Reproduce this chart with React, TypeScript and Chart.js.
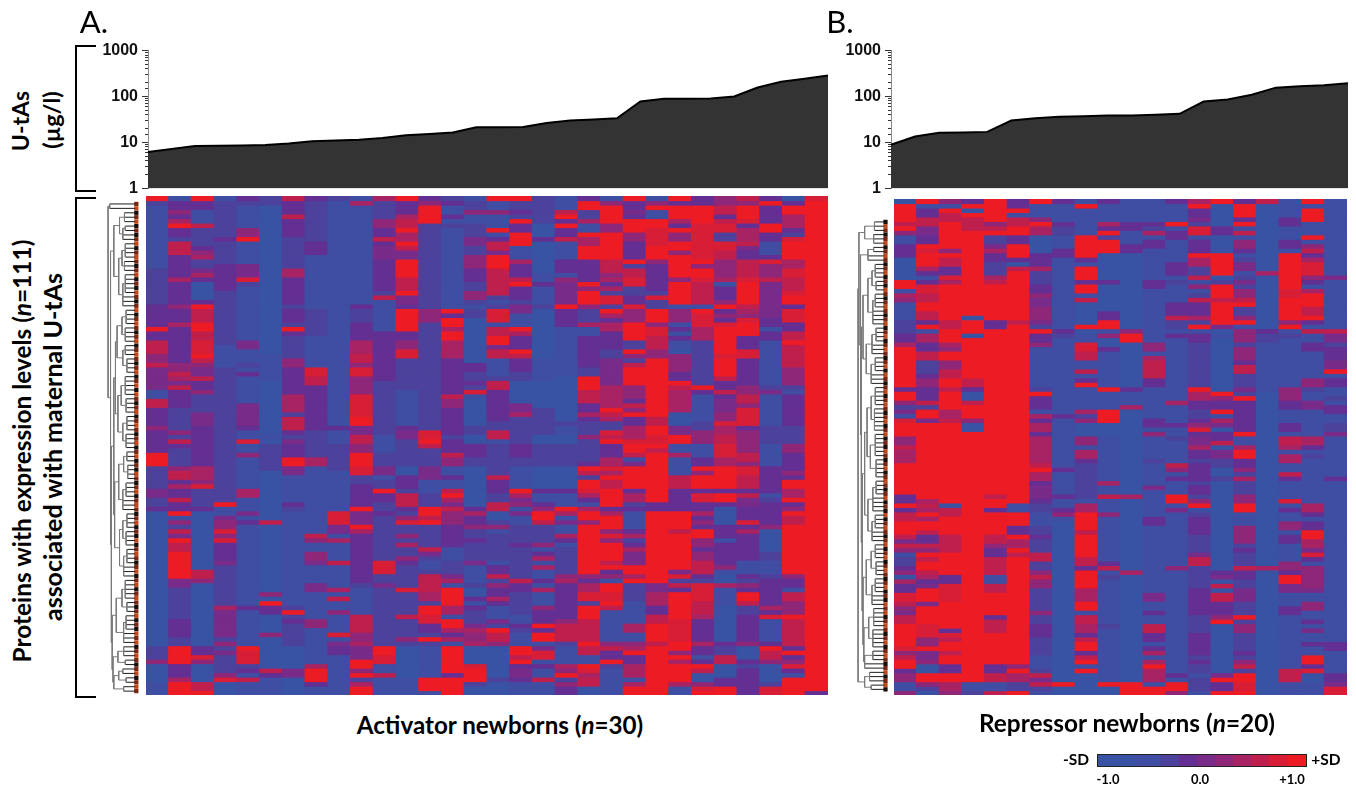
import React, { useEffect, useRef } from "react";
import { Chart, registerables } from "chart.js";

Chart.register(...registerables);

const FONT = "Lato, 'Open Sans', sans-serif";

// ---- U-tAs curves (µg/l), sorted per newborn ----
const uTasA = [6.2, 7.2, 8.4, 8.5, 8.6, 8.8, 9.5, 10.6, 11, 11.4, 12.5, 14.3, 15.3, 16.4, 21.4, 21.4, 21.8, 26.5, 29.9, 31.8, 33.5, 78, 90, 90, 91, 100, 157, 209, 243, 286];
const uTasB = [8.9, 13.5, 16.2, 16.4, 17, 30, 33.5, 36.5, 37, 38.5, 38.5, 40, 42, 78, 86, 109, 156, 167, 176, 194];
const powersOfTen = [1, 10, 100, 1000];

// ---- heatmap levels: 0 = -1.0 SD ... 9 = +1.0 SD ----
// each column: base level, then "row:level" or "from-to:level"
const heatA = [
  "1 0:9 1:2 16-23:2 24-28:3 29:9 30-31:3 32-34:7 35-36:5 37:7 38-42:4 43-44:1 45-46:7 47-50:3 51:5 52-56:3 57-59:9 60-64:2 65-66:4 67-68:2 69:3 70-99:0 100-102:2 103:5 104-107:0 108-110:1",
  "2 0:1 1-4:3 3:5 5:6 6:9 7-8:3 10-12:7 13-17:3 18:6 19-23:3 24:5 25-27:3 28:6 29-36:3 37-38:5 39:7 40:6 41:4 42:7 43-46:3 52:5 54:7 55:3 60:5 61-62:7 63:3 64:6 65-66:3 67:7 68-69:3 70:9 71:1 72:5 74:7 75:4 76:9 77-78:7 79-84:9 85-86:4 94-97:3 100-103:9 104-106:3 107:6 108-110:9",
  "2 0:9 1-2:3 3-5:1 6:7 11:3 12:5 13:6 16:4 17:6 18:3 19-22:0 23:3 24:9 25-27:7 28-29:9 30-31:7 32-34:8 35:9 36:7 37:5 38-39:4 40:7 41-42:3 43:5 48-50:4 51-59:3 60:6 61-62:6 63:5 64:8 69:3 70-99:0 83-84:7 85:5 100-101:3 102:8 103:5 104-107:0 108-109:7 110:9",
  "2 0:1 9:3 15-20:3 33-37:1 68:9 69-70:1 71-72:4 72-75:5 74:8 76:8 77-80:3 81:4 91:6 92-97:4 99:5 101:4 106:5 107:8 108-110:0",
  "1 0:3 1:2 7-8:5 9:9 15-17:4 18:8 19:2 32-33:4 37:2 39:3 46-50:4 51:3 54:8 57:5 65-66:6 70:4 72:3 91:3 100-103:8 100:9 104:2 105:3 107:7",
  "0 0:2 1:2 35-40:1 53:1 55-60:2 72:7 88:5 90:9 91-92:3 97:5 105:7 106:3 107-110:1",
  "2 0:7 1-3:3 4:7 5-8:3 16-17:6 18-23:3 25-27:3 29:9 30:3 36-37:5 38-43:3 44-47:6 49-51:7 52:3 54:4 55-57:3 58-59:9 60-61:4 62-67:1 68:3 70-90:1 92:9 94:3 100-110:0 105-106:4",
  "1 0:3 1-9:2 10-12:3 25-30:2 38-39:8 40-41:7 42-50:3 51:3 52-54:2 55-57:2 58-59:6 75:7 76:5 79-80:5 81:4 86-87:4 94-95:5 104:6 105-107:9 108:3",
  "1 0:2 51:3 55-60:2 70-72:8 73-74:4 76:6 81:7 87:6 89:7 92:5 97:8 99:4 100-101:3",
  "1 0:1 1:6 18-22:1 24:3 25-28:2 28-31:3 32-34:6 35-36:7 37:5 38-39:8 40-43:5 44:8 45-48:8 49:9 50:9 51-52:4 53-56:7 55-56:5 57-59:9 60-61:8 62-63:2 64-68:3 69:9 70-72:4 73:9 74:6 75-85:3 86:2 93-96:7 97-98:5 99:6 100-102:4 103-104:9 105:5 106:9 107-108:2 108:6 109-110:9",
  "2 0:6 5-6:5 7-8:3 9:7 10:3 11-13:4 14-20:3 22:7 23-29:1 30-40:3 53-56:1 60-61:4 62:1 65:9 66-67:3 70:3 81-83:8 84:2 86:4 100-101:9 102-103:8 104-105:1 106:7 107-110:1",
  "2 0:9 1-3:3 4:6 5-6:7 7:9 8-9:6 10:9 11:7 12-13:4 14-20:9 18-20:7 21:9 22-23:4 24:3 25-29:9 30-31:3 32-33:5 34-35:8 43-50:1 51:3 52-53:4 60-61:0 62-64:3 66-68:7 69:3 71:5 72:8 75:5 77:6 80:5 81:3 85-86:2 87:8 93:7 98:5 100-106:0 107-110:1",
  "2 0:3 1:5 2-3:9 4:3 4-5:9 25-27:5 52-53:8 54-55:9 55:7 60-62:4 63-65:1 69-71:9 71:7 72:9 78:7 79:4 81-82:1 84-87:7 88-89:6 91-92:9 93-94:8 95-96:3 98:9 100-106:1 107-109:9 110:1",
  "1 0:2 1:3 4:3 6:2 25:9 26-27:3 27-28:9 29:6 30-31:9 32-35:6 36:3 37-43:3 44:7 45-46:5 47-52:3 53:2 54-56:3 57:7 58-59:5 60-61:1 62:3 65:7 66:9 67:6 68:4 69:7 70-72:5 73-77:3 78-80:1 81-83:2 84:4 85:6 87-90:9 91-92:6 94-95:9 96:6 97:3 98:6 100-105:9 106:3 107-110:9",
  "2 0:1 3:5 4-5:1 9-10:4 13-15:5 16-18:3 21:5 22:5 24:1 27-36:0 37-38:3 41:3 43:8 44:1 45-50:0 51-52:2 53-56:0 55-57:3 60-68:0 69-70:3 70:6 71-72:3 73:5 76:3 81:4 82-85:1 87-88:0 89:3 90:1 91:3 95:4 96:6 97-98:5 99:6 100-103:0 104:8 105-107:9 108:2 109-110:0",
  "2 0:9 1-2:1 3:5 4-6:1 7:9 8:1 9:3 10-11:7 12:4 13-18:9 16-20:7 21:7 23:1 25-27:8 28:1 29-31:7 31-33:9 33:4 34-35:7 36-39:1 41-42:7 43-49:3 52-53:7 54:1 62:7 63-65:3 68-69:7 70-71:0 73:5 74:1 81:1 82-83:3 84:7 86:5 87-90:3 89:6 91-93:1 94:4 96:9 97-98:7 99:5 100-110:0 107:2",
  "2 0:9 1-2:2 3:3 5:9 6-7:3 8-10:9 11-13:1 14:6 15-17:3 18:7 19:9 20-22:3 24-25:4 26-28:1 29:9 30:6 31-33:3 34:9 35:7 36-38:3 41-45:0 46-47:4 48:6 53-56:2 55-57:3 60-64:1 65:9 66:6 67:4 68:5 69:1 70:4 71-72:1 77:3 85:7 86-87:3 93-94:1 95:3 97-99:1 100-103:9 102:7 104:3 105-106:4 107:3 108-110:1",
  "1 0-5:2 6-8:0 9:3 10-16:0 19:3 24:2 25-35:0 36-40:1 41-46:0 47-53:2 53-55:0 55-59:2 60-64:0 65:3 68:3 69:5 70-71:9 72:7 73-76:2 77:5 79:3 80:6 82:6 85:3 87:6 91:5 92-94:3 95:9 96-97:3 97-98:9 100:4 101-102:8 104:3 107:7 108-110:1",
  "1 3:7 4:9 5:3 6:9 7-8:3 9:7 14-16:3 18:5 19-23:4 24:9 25-28:3 40-49:0 50:2 53-54:0 55-59:2 60-64:0 65:3 69:9 70:6 72:4 73:1 75:6 76:3 78-83:2 84:5 85:6 86-91:3 92-93:3 94:5 95-96:7 97-98:7 99:2 100-103:1 104:6 105:5 106:9 107:2 108:5 109-110:3",
  "2 0:3 1-2:9 3-5:2 5:6 6-7:1 8:9 9-10:6 11-13:9 14-18:3 19:9 20:5 21-23:9 24:5 28:6 29-30:1 31-37:3 40-42:9 43-45:7 46-47:3 48:6 49:3 53:5 55-58:2 59:3 60:9 61:7 63-64:9 65:8 66:6 67:3 68:1 69:6 70-71:9 72:5 73-75:9 76-84:9 84:5 85:3 86-87:6 88-89:8 91-93:9 94-98:7 99:9 100-101:7 102:1 103:1 104:9 105:8 106:6 107-108:7 109-110:0",
  "2 0:1 1:5 2-5:9 6-7:5 8-13:9 14-16:7 17:5 18:6 19:3 20:6 22-23:8 24:2 25:9 26:6 27-28:3 28-29:6 30-33:3 36-41:4 42-46:6 47:9 48:7 49:6 52:8 53:7 54:9 55-57:3 58-59:6 60:8 61:6 62:9 63-64:7 65-68:9 69:3 70:6 71-73:9 74:5 75:8 76:5 77-82:9 81:7 83:3 84:5 85:1 86-87:9 88-89:8 90:9 91:7 92-98:1 99:5 100:7 101-102:3 103:9 104:2 105-110:1",
  "2 0:9 1-4:3 3:4 5-7:9 8-9:5 10-13:3 14:9 15:2 16-17:7 18-19:8 22-23:3 24:8 25-27:5 28-31:9 32-33:2 34:9 35:5 37:7 38-41:9 42-44:5 45:3 46:7 47:5 48:9 49-50:3 51-53:6 54-56:8 55-56:9 57:7 58:1 59:4 60-64:9 65:3 66-67:6 69-70:3 70-73:1 74:3 75:6 77:3 78:6 79-81:4 82-83:9 84:6 85:9 86-89:2 90-94:1 95-96:6 97-98:1 99:5 100:6 101:9 102-103:3 104-106:6 107:1 108:6 109-110:9",
  "2 0:1 1:5 2:9 3-4:1 5-6:9 7-10:8 11-13:9 14:5 15-20:3 22:8 23-24:2 25-27:9 28:5 29-31:8 31:7 32-33:7 34-35:5 36-48:9 49-51:7 51-52:9 53-56:8 55:9 56:7 57-67:9 68-69:3 70-85:9 86-87:4 88-89:6 90:6 91-92:3 93-94:7 95-98:9 99:7 100-110:9",
  "3 0:9 1:3 2-4:9 5:6 6:3 7:9 8-10:5 10-11:9 12:5 13-17:9 18:5 19-23:9 24:1 25-27:5 28:1 29:3 30:1 31:3 32-34:1 34:0 35-38:5 41:9 42:7 43-47:6 48-50:0 51-52:4 53-54:9 55-57:1 57:6 58-61:1 62-64:7 65-66:3 70-73:9 74:7 75-82:9 83:4 84:8 85:2 86:7 87:3 88-93:9 94-98:8 99-100:9 101:5 102:9 103:6 104-107:9 108:6 109-110:1",
  "3 0-1:3 2-5:9 6-13:8 14:9 15:5 16-17:9 18:8 19-23:7 24:1 25:9 26:8 27-28:8 29-31:6 32-41:2 42:9 44-49:1 50-51:2 52-56:5 55-57:1 60:9 61:5 62-64:9 66-67:8 70:6 72:5 74-75:9 76-77:5 79-80:5 81-83:7 85:2 86:8 87-89:8 90-92:7 93:6 94-98:3 99:6 102:1 104:9 105:7 106-107:0 108:5 109:8 110:9",
  "3 0-1:5 2-3:7 5:7 6-7:8 8-9:2 10-11:8 12-13:7 14-17:5 18:6 19:0 23:5 24:9 26:5 28:8 29-34:9 35:8 36-40:9 40:7 43:7 45-47:4 48-49:5 50:8 51-52:6 53-54:7 55-57:8 58-59:6 60-61:9 62-64:9 65:3 66-67:9 69-72:0 76:1 82:5 83:1 84-85:0 86:6 87-90:1 91-98:0 100-102:2 102-103:7 104-106:0 107-108:3 109-110:9",
  "3 0:7 1:5 2-5:9 5:8 7-9:6 10:7 11:4 14-17:7 18:8 19-23:9 24:7 25:6 26:5 27-31:8 28-30:9 31-33:3 34-35:8 40-41:3 42-43:5 44-45:7 46:5 47-50:8 52-53:5 54-56:5 57-58:7 59:5 60-61:8 62-64:7 66:7 67-68:4 72:8 74:6 81-83:1 85:2 86:5 88-89:9 90:7 91-92:2 99:5 100-102:0 104:2 109-110:3",
  "3 1:9 6-7:9 10-12:1 14:8 15-17:5 18:7 19-26:4 29:1 32-41:1 42:2 43:4 44-50:1 51-56:2 55-59:1 66:1 67:2 73:5 74-78:0 79-80:2 81-83:1 84:2 91:6 93:8 94-98:1 100:9 101-102:7 103:5 104-107:0 108:2 109-110:8",
  "3 0:0 2-3:9 4-6:6 8:2 9:8 10-13:9 14-15:6 16-17:8 18-20:7 21:8 22-23:9 25-27:8 30-31:7 32:9 33-37:7 38-41:5 42:2 43:1 51-56:2 55-56:5 61:5 63-64:9 65-66:6 67:9 69:5 70:9 71-72:7 73-83:9 84:5 87:1 88-89:7 90-92:5 93:9 94-99:7 101:9 103:5 104:8 106:1 107-110:9",
  "9 0:8 110:3",
];

const heatB = [
  "1 0:0 1-4:9 5:7 6:9 7:5 10-12:3 13-17:0 18-19:9 20:1 21:6 22:5 27-29:2 30-31:3 32:6 33-41:9 42:3 43-44:9 45:5 46:2 47:4 49:8 50-52:9 53-54:5 55:7 56-58:6 59-65:9 66-67:3 68:9 69:3 70-71:7 72-74:9 75:7 76:4 77:7 78:5 79:1 80-82:2 82:3 83:5 84:0 85:6 86-87:3 88-89:8 90:7 91:5 92:4 93-94:7 95-99:9 100:8 101:5 102:7 103-104:9 105:3 106-107:5 108-109:1 110:5",
  "3 0:9 1:1 2-3:3 4:7 5-6:7 6-7:4 8:3 9:3 10:9 11:8 12:5 12-14:9 15:6 16:3 17:1 18:3 19-20:8 21-22:7 23-24:9 25-26:7 27:3 28:9 29:1 30-31:6 32-33:3 34-35:7 36-38:2 39:3 40-41:5 42-44:3 45:7 46:2 47-48:9 49:4 50-66:9 67:6 68:7 69:6 70:9 71:6 72-73:9 74:7 75-76:3 77:7 78:5 79:9 80:7 81-82:9 83:7 84:6 85:3 86:4 87-89:9 90:4 91-94:9 95-97:8 98-99:5 100:9 101-102:4 103:5 104-105:0 106-107:9 108:5 109:2 110:0",
  "9 0:5 1:1 3-4:7 11:5 13-14:7 15-16:3 17:8 18:6 27-28:7 32:6 33:5 36-37:5 38-39:7 42:7 47-48:6 49:7 68:0 69-70:7 75-78:7 84-85:3 86-89:8 96:3 97:8 98:7 101:7 104-105:3 108-109:6 110:5",
  "9 0:3 2:0 4-6:7 26:0 30:0 40-41:7 42:3 43-44:0 45:7 49:5 50-51:0 108-109:1 110:2",
  "9 0:9 5:5 6:7 8-9:2 10:4 11:6 12-13:3 14-16:2 17:6 18:7 27-28:3 66:7 69:3 75-76:7 77:5 78-79:3 80-83:7 84-85:1 86-87:7 93:3 94-96:7 104-105:3 106-107:7 108-109:1 110:7",
  "9 0:3 1:3 3:1 4-5:7 8-9:3 13:3 14:0 15:7 27:7 68-69:1 73-74:3 76-77:6 79:7 104:5 106-107:6 108-109:2",
  "2 0:9 1-3:1 4:5 5:9 6-7:6 8-11:0 12:3 13-14:3 15:6 19-21:3 21:5 22-23:4 24-26:5 27:4 29:9 30-31:3 32:5 33-41:1 43:9 44-46:3 47:1 48:6 49:3 50-51:6 52:3 53-58:6 59:7 60:9 61-62:6 63:3 64-66:4 67:3 68-69:2 70-72:1 75:3 79-80:7 83:5 84:7 85-86:5 92:5 95-97:3 102:1 103-104:1 106:7 107:4 108:7 110:1",
  "1 0:3 5:3 6-7:2 11-12:3 29:3 30:2 48:3 60:3 66:3 70:5 69:3 72-107:0 108:9 109-110:0",
  "1 1:9 0:1 8-12:9 13:3 15-17:9 18:3 19-20:9 22:7 23-29:0 28:9 32-33:8 34-35:7 38:7 40:3 41:9 47:6 48:2 49:5 50-52:0 53-54:5 56-57:6 58:3 59-66:2 68-69:6 70-73:9 74:7 75-81:9 80-81:7 82:3 83-86:9 87-89:6 90-91:9 93-94:7 95-96:6 97:3 98:7 99-100:9 101:3 102:7 103:9 105:9 106-110:0",
  "1 0:3 5:6 6:3 7:9 8:2 9-11:9 12-24:0 18:3 25-26:3 27-28:9 30:5 31-33:0 33:3 42:9 43-46:1 47-49:9 50-52:0 63:6 66:7 70:5 81:3 82:7 84:2 95:2 108:9 109-110:0",
  "1 5-6:3 10-11:3 29:5 30-31:9 42:3 46:6 66:6 83:6 108:9 109-110:9 12-28:0 32-41:0 47-65:0 67-82:0 84-107:0",
  "1 5:3 6:2 7:6 9-10:3 18-19:3 32-33:5 35:6 36-39:7 40-41:3 49:3 50:3 52:5 58:2 64:4 71-72:3 88-89:4 92:3 95-96:7 97-98:3 100:3 101:6 103:6 104:9 105-107:6 108:1 109-110:9",
  "1 0:3 5:9 7-8:3 14-16:3 18:2 23-25:3 26:7 27-28:2 30:3 45:6 50:3 53:2 59:7 60:5 62:3 66-67:9 69:4 82:5 106:3 108-109:9 110:5",
  "2 0:6 1:9 2-3:3 4:4 5:2 6-7:8 8:1 9-11:3 12:9 13-14:6 15-16:2 17:7 18:1 19:5 20:1 22:7 23-25:3 26:6 28:9 29:1 30-31:3 42:9 43-44:6 45-46:3 49:3 50-51:5 51:8 52:3 53-54:4 55:6 56-57:3 59-62:3 64-65:3 66:2 67:5 68:9 69:1 71-74:3 79:4 80-81:7 87-92:3 97-100:3 101:3 103:3 106:1 110:1",
  "0 0:9 6-7:3 12-16:9 18:2 19-21:9 22:7 23-27:9 28:4 30:1 43:9 44:5 45-46:3 47:9 48:1 49:6 50:4 52-53:3 54:7 56-57:4 58-59:2 62:2 83:3 84:4 86:7 88-89:7 90-92:3 93:5 94:9 106:4 107:9 108-109:3 110:9",
  "2 0:3 1-3:9 4:3 5:9 6:1 7:7 8:1 9-10:5 11:3 12:1 14-15:4 16:1 18:4 20-21:5 22-23:9 22:7 24-25:2 26:5 27:9 28:1 29-31:5 33-35:5 36:3 37-38:7 40:2 42:4 44:9 45-47:3 48-52:3 52:9 53-54:1 55:6 56-57:9 58-59:3 60:5 62:6 66-67:5 68-69:9 70-72:1 73-76:5 78:3 82:7 83-84:3 87-89:4 93:9 95-96:5 101:3 103:5 104:7 106-107:9 108-109:8 110:9",
  "0 0:7 16:6 29:3 30-31:2 32-41:1 42:1 82:6",
  "1 0:1 4-5:3 9-10:3 12-19:9 20-21:8 22-26:9 27:5 28:9 30:2 42-44:5 45-46:3 50-51:3 53-54:7 55:6 57-58:6 61:7 62:3 67:8 69:3 72-73:5 75-76:3 81-82:5 83:3 84-85:9 86-87:4 91-92:3 105-107:7 109-110:1",
  "1 0:9 2-4:9 8:9 10-11:5 11:7 12:3 13:6 14-16:8 17:5 18:3 20-21:6 21-23:9 24-25:7 26:9 27:3 29:7 32-33:3 40-41:5 42:2 45-46:4 53-54:6 55:3 57:2 68-69:6 70:3 72-73:3 74-75:9 76-77:6 78:4 79:8 80:3 82:5 83-86:5 87:4 90-91:5 94:3 96:4 99:3 102-103:9 104:3 105:8 106-107:0",
  "1 17:4 29:7 30-31:4 32:2 33-35:3 36-37:4 38:9 40-41:3 44:2 46-47:3 50-52:2 52:4 62:3 99-100:3 106-107:3 108:4 109-110:8",
];

const palette = ["#3953a4", "#3f4ea2", "#4c429c", "#642f92", "#782b88", "#8e2778", "#a82363", "#bf1f4d", "#d71e36", "#ed1c24"];
const colorbarLevels = [0, 0, 0, 0, 1, 1, 1, 2, 2, 3, 3, 4, 4, 5, 5, 6, 6, 7, 7, 8, 8, 9, 9];
const colorbarTicks = ["-1.0", "0.0", "+1.0"];

// ---- dendrograms: [height, ...children]; a plain number = that many leaves ----
const gA2 = [19, [13, 3], [15, [12, 2], 2]];
const gA3 = [20, [16, [12, 4], [13, 3]], [15, [12, 5], 3]];
const gA4 = [22, [16, [11, 4], [12, 4]], [15, [12, 3], [10, 4]]];
const gA5 = [21, [17, [12, 5], [11, 4]], [15, [10, 4], [11, 4]]];
const gA6 = [20, [14, [10, 3], [9, 4]], [15, [11, 4], 3]];
const gA7 = [19, [15, [10, 4], [11, 4]], [14, [10, 4], 3]];
const gA8 = [23, [16, [12, 5], [10, 3]], [14, [11, 4], 3]];
const gA9 = [21, [14, 3], [12, 2]];
const gA10 = [26, [20, [15, 2], [11, 2]], [14, 2]];
const treeA = [33, [31, 2], [30, [26, gA2, gA3], [29, [26, [24, gA4, gA5], [25, gA6, gA7]], [28, gA8, [27, gA9, gA10]]]]];

const gB1 = [24, [12, 3], [13, 3]];
const gB2 = [20, [13, 2], 2];
const gB3 = [20, [15, [11, 4], [10, 3]], [14, [11, 4], 4]];
const gB4 = [22, [15, [10, 4], 3], [16, [11, 4], 3]];
const gB5 = [21, [16, [11, 5], [12, 6]], [17, [11, 6], [10, 5]]];
const gB6 = [20, [14, [10, 4], 4], [15, [11, 4], 3]];
const gB7 = [22, [16, [11, 4], [10, 4]], [15, [11, 4], 3]];
const gB8 = [19, [13, 5], [14, 5]];
const gB9 = [24, [14, 3], 2];
const treeB = [32, [31, gB1, [29, gB2, [28, [26, gB3, gB4], [27, [24, gB5, gB6], [26, gB7, [25, gB8, gB9]]]]]], [24, [18, 3], [16, 2]]];

const stripA = "120120101201210120102101201210120121012012021012012101201201021012012101201020121012012012101201021201210120121";
const stripB = "021012012101201021012101201201210120210120121012012010210120121012010201210120120121012010212012101201210120120";
const stripColors = ["#1a0d08", "#7c2612", "#c2481a"];

const ROWS = 111;

function parseColumn(spec: string): number[] {
  const parts = spec.trim().split(/\s+/);
  const out = new Array(ROWS).fill(Number(parts[0]));
  for (const t of parts.slice(1)) {
    const [range, lvl] = t.split(":");
    const [a, b] = range.split("-").map(Number);
    for (let r = a; r <= (b === undefined ? a : b) && r < ROWS; r++) out[r] = Number(lvl);
  }
  return out;
}

function heatConfig(columns: string[]): any {
  const cols = columns.map(parseColumn);
  const datasets = [];
  for (let r = 0; r < ROWS; r++) {
    datasets.push({
      data: cols.map(() => 1),
      backgroundColor: cols.map((c) => palette[c[r]]),
      borderWidth: 0,
      inflateAmount: 0.6,
      barPercentage: 1,
      categoryPercentage: 1,
    });
  }
  return {
    type: "bar",
    data: { labels: cols.map((_, i) => String(i + 1)), datasets },
    options: {
      animation: false,
      responsive: false,
      events: [],
      layout: { padding: 0 },
      plugins: { legend: { display: false }, tooltip: { enabled: false } },
      scales: {
        x: { stacked: true, display: false },
        y: { stacked: true, display: false, reverse: true, min: 0, max: ROWS },
      },
    },
  };
}

function areaConfig(values: number[], axisWidth: number, padding: any): any {
  return {
    type: "line",
    data: {
      labels: values.map((_, i) => String(i + 1)),
      datasets: [
        {
          data: values,
          borderColor: "#000000",
          borderWidth: 2,
          backgroundColor: "#333333",
          fill: "start",
          pointRadius: 0,
          tension: 0,
          yAxisID: "y",
        },
      ],
    },
    options: {
      animation: false,
      responsive: false,
      events: [],
      layout: { padding },
      plugins: { legend: { display: false }, tooltip: { enabled: false } },
      scales: {
        x: { display: false, offset: false },
        y: {
          type: "logarithmic",
          position: "left",
          weight: 2,
          min: 1,
          max: 1000,
          afterBuildTicks: (s: any) => {
            s.ticks = powersOfTen.map((value) => ({ value }));
          },
          afterFit: (s: any) => {
            s.width = axisWidth;
          },
          ticks: {
            autoSkip: false,
            color: "#111111",
            padding: 4,
            font: { family: "'Liberation Sans', Arial, sans-serif", weight: "bold", size: 16 },
            callback: (v: any) => String(v),
          },
          grid: { drawOnChartArea: false, tickLength: 6, tickColor: "#333333", tickWidth: 1 },
          border: { display: true, color: "#8a8a8a", width: 1 },
        },
        y2: {
          type: "logarithmic",
          position: "left",
          weight: 1,
          min: 1,
          max: 1000,
          afterFit: (s: any) => {
            s.width = 0;
          },
          ticks: { display: false, autoSkip: false, maxTicksLimit: 100 },
          grid: { drawOnChartArea: false, tickLength: 3, tickColor: "#333333", tickWidth: 1 },
          border: { display: false },
        },
      },
    },
  };
}

function walkTree(node: any, st: { y: number; branch: any[]; leaf: any[] }): { y: number; h: number } {
  const h = node[0];
  const kids: { y: number; h: number; isLeaf: boolean }[] = [];
  for (const c of node.slice(1)) {
    if (typeof c === "number") {
      for (let i = 0; i < c; i++) {
        kids.push({ y: st.y, h: 0, isLeaf: true });
        st.y += 1;
      }
    } else {
      const r = walkTree(c, st);
      kids.push({ ...r, isLeaf: false });
    }
  }
  const y0 = kids[0].y;
  const y1 = kids[kids.length - 1].y;
  st.branch.push({ x: h, y: y0 }, { x: h, y: y1 }, { x: NaN, y: NaN });
  for (const k of kids) {
    const target = k.isLeaf ? st.leaf : st.branch;
    target.push({ x: h, y: k.y }, { x: k.h, y: k.y }, { x: NaN, y: NaN });
  }
  return { y: (y0 + y1) / 2, h };
}

function dendroConfig(tree: any, strip: string, xMin: number, xMax: number, yMin: number, yMax: number): any {
  const st = { y: 0, branch: [] as any[], leaf: [] as any[] };
  walkTree(tree, st);
  const stripPts = [];
  const stripCols = [];
  for (let r = 0; r < ROWS; r++) {
    stripPts.push({ x: -1.5, y: r });
    stripCols.push(stripColors[Number(strip[r] || 0)]);
  }
  return {
    type: "scatter",
    data: {
      datasets: [
        { data: st.branch, showLine: true, spanGaps: false, borderColor: "#7a7a7a", borderWidth: 1, pointRadius: 0 },
        { data: st.leaf, showLine: true, spanGaps: false, borderColor: "#1c1c1c", borderWidth: 1, pointRadius: 0 },
        { data: stripPts, showLine: false, pointStyle: "rect", pointRadius: 3, pointBorderWidth: 0, pointBackgroundColor: stripCols },
      ],
    },
    options: {
      animation: false,
      responsive: false,
      events: [],
      layout: { padding: 0 },
      plugins: { legend: { display: false }, tooltip: { enabled: false } },
      scales: {
        x: { type: "linear", display: false, reverse: true, min: xMin, max: xMax },
        y: { type: "linear", display: false, reverse: true, min: yMin, max: yMax },
      },
    },
  };
}

function colorbarConfig(): any {
  return {
    type: "bar",
    data: {
      labels: colorbarLevels.map((_, i) => String(i)),
      datasets: [
        {
          data: colorbarLevels.map(() => 1),
          backgroundColor: colorbarLevels.map((l) => palette[l]),
          borderWidth: 0,
          inflateAmount: 0.6,
          barPercentage: 1,
          categoryPercentage: 1,
        },
      ],
    },
    options: {
      animation: false,
      responsive: false,
      events: [],
      layout: { padding: 0 },
      plugins: { legend: { display: false }, tooltip: { enabled: false } },
      scales: {
        x: { display: false },
        y: { display: false, min: 0, max: 1 },
      },
    },
  };
}

type BoxDef = { left: number; top: number; width: number; height: number; config: () => any };

const boxes: BoxDef[] = [
  { left: 88, top: 37, width: 745, height: 165, config: () => areaConfig(uTasA, 60, { top: 6, bottom: 0, right: 5 }) },
  { left: 831, top: 37, width: 522, height: 165, config: () => areaConfig(uTasB, 60, { top: 6, bottom: 0, right: 5 }) },
  { left: 146, top: 196, width: 682, height: 499, config: () => heatConfig(heatA) },
  { left: 894, top: 199, width: 453, height: 496, config: () => heatConfig(heatB) },
  { left: 100, top: 196, width: 44, height: 506, config: () => dendroConfig(treeA, stripA, -6, 38, -0.89, 111.55) },
  { left: 850, top: 212, width: 44, height: 490, config: () => dendroConfig(treeB, stripB, -7, 37, -1.39, 112.03) },
  { left: 1098, top: 755, width: 208, height: 11, config: colorbarConfig },
];

function ChartBox({ def }: { def: BoxDef }) {
  const ref = useRef<HTMLCanvasElement | null>(null);
  useEffect(() => {
    const chart = new Chart(ref.current as HTMLCanvasElement, def.config());
    return () => chart.destroy();
  }, [def]);
  return (
    <canvas
      ref={ref}
      width={def.width}
      height={def.height}
      style={{ position: "absolute", left: def.left, top: def.top, width: def.width, height: def.height }}
    />
  );
}

function Txt({ cx, cy, size, bold, rotate, children }: any) {
  return (
    <div
      style={{
        position: "absolute",
        left: cx,
        top: cy,
        transform: `translate(-50%,-50%)${rotate ? " rotate(-90deg)" : ""}`,
        whiteSpace: "nowrap",
        fontFamily: FONT,
        fontSize: size,
        fontWeight: bold ? 700 : 400,
        color: "#000",
        lineHeight: 1,
      }}
    >
      {children}
    </div>
  );
}

function Bracket({ top, bottom }: { top: number; bottom: number }) {
  return (
    <div
      style={{
        position: "absolute",
        left: 75,
        top,
        width: 19,
        height: bottom - top,
        borderLeft: "2px solid #000",
        borderTop: "2px solid #000",
        borderBottom: "2px solid #000",
      }}
    />
  );
}

export default function App() {
  return (
    <div style={{ position: "absolute", left: 0, top: 0, width: 1356, height: 788, overflow: "hidden", background: "#fff" }}>
      {boxes.map((b, i) => (
        <ChartBox key={i} def={b} />
      ))}
      <div style={{ position: "absolute", left: 1097, top: 754, width: 208, height: 11, border: "1px solid #222", pointerEvents: "none" }} />
      <Bracket top={45} bottom={188} />
      <Bracket top={197} bottom={694} />
      <Txt cx={94} cy={21} size={31}>A.</Txt>
      <Txt cx={840} cy={21} size={31}>B.</Txt>
      <Txt cx={20} cy={121} size={23} bold rotate>U-tAs</Txt>
      <Txt cx={52} cy={120} size={23.5} bold rotate>(µg/l)</Txt>
      <Txt cx={22} cy={451} size={24.4} bold rotate>
        Proteins with expression levels (<i>n</i>=111)
      </Txt>
      <Txt cx={52} cy={447} size={25} bold rotate>associated with maternal U-tAs</Txt>
      <Txt cx={500} cy={725} size={24.2} bold>
        Activator newborns (<i>n</i>=30)
      </Txt>
      <Txt cx={1127} cy={723} size={24.4} bold>
        Repressor newborns (<i>n</i>=20)
      </Txt>
      <Txt cx={1076} cy={760} size={15.5} bold>-SD</Txt>
      <Txt cx={1326} cy={760} size={15.5} bold>+SD</Txt>
      <Txt cx={1108} cy={779} size={13} bold>{colorbarTicks[0]}</Txt>
      <Txt cx={1200} cy={779} size={13} bold>{colorbarTicks[1]}</Txt>
      <Txt cx={1292} cy={779} size={13} bold>{colorbarTicks[2]}</Txt>
    </div>
  );
}
